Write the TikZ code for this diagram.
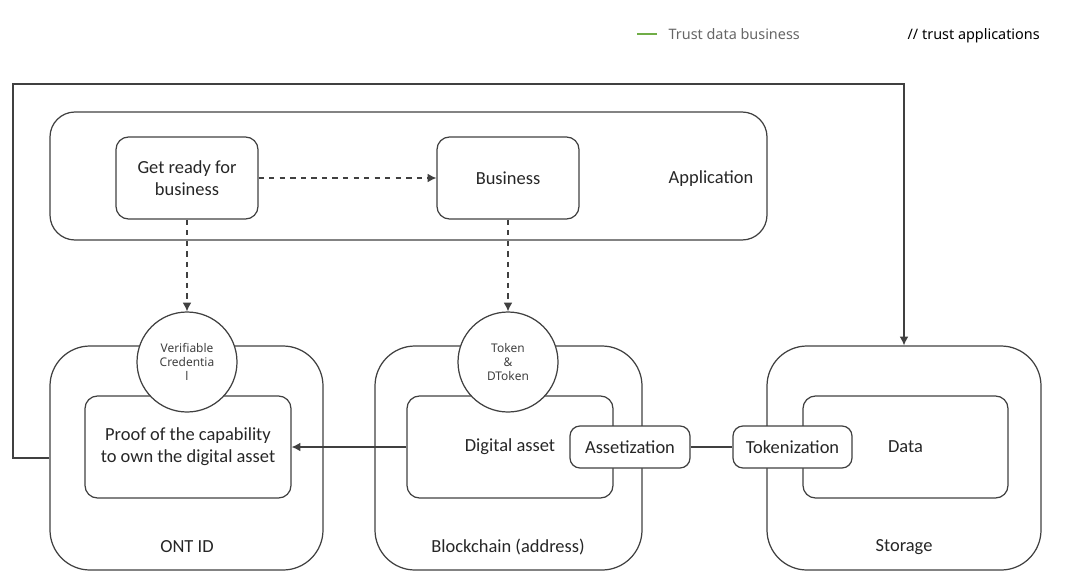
\documentclass[tikz,border=0pt]{standalone}
\usepackage{fontspec}
\setmainfont{Carlito}
\newfontfamily\thinfont{Noto Sans}
\usepackage{tikz}
\usetikzlibrary{positioning, arrows.meta}
\definecolor{linegray}{HTML}{404040}
\definecolor{textgray}{HTML}{262626}
\definecolor{leggreen}{HTML}{70AD47}
\tikzset{
	>={Latex[length=5pt,width=5pt]},
	every path/.append style={
		line width=0.7pt,
	},
	labe/.append style={
		align = center,
		text=textgray,
		font={\fontsize{10.5}{12.6}\selectfont}
	},
	outerbox/.append style={
		draw=linegray,
		rounded corners=0.8cm,
		minimum width=5.46cm,
		minimum height=4.48cm,
	},
	innerbox/.append style={
		draw=linegray,
		labe,
		rounded corners=0.25cm,
		minimum width=4.12cm,
		minimum height=2.04cm,
	},
	smallbox/.append style={
		draw=linegray,
		fill=white,
		labe,
		rounded corners=0.2cm,
		minimum width=2.4cm,
		minimum height=0.84cm,
	},
	tokencircle/.append style={
		draw=linegray,
		fill=white,
		circle,
		inner sep=0pt,
		minimum size=2cm,
		align=center,
		text=linegray,
		font={\thinfont\fontsize{6.8}{8.2}\selectfont}
	},
	legend/.append style={
		anchor=west,
		inner sep=0pt,
		font={\thinfont\fontsize{8.2}{10}\selectfont}
	},
}

\begin{document}
\begin{tikzpicture}
	\useasboundingbox (0,0) rectangle (21.6,11.62);

	% application layer
	\node(app)[draw=linegray, rounded corners=0.5cm, minimum width=14.34cm, minimum height=2.56cm] at (8.17,8.10) {};
	\node(grb)[innerbox, minimum width=2.84cm, minimum height=1.64cm] at (3.74,8.06) {Get ready for\\business};
	\node(bus)[innerbox, minimum width=2.84cm, minimum height=1.64cm] at (10.16,8.06) {Business};
	\node(appl)[labe] at (14.22,8.05) {Application};

	% bottom layer
	\node(ont)[outerbox] at (3.73,2.46) {};
	\node(chain)[outerbox, minimum width=5.34cm] at (10.17,2.46) {};
	\node(store)[outerbox, minimum width=5.48cm] at (18.08,2.46) {};

	\node(proof)[innerbox] at (3.76,2.68) {Proof of the capability\\to own the digital asset};
	\node(da)[innerbox] at (10.2,2.68) {Digital asset};
	\node(data)[innerbox, minimum width=4.1cm] at (18.11,2.68) {Data};

	\node(vc)[tokencircle] at (3.74,4.38) {Verifiable\\Credentia\\l};
	\node(tok)[tokencircle] at (10.16,4.38) {Token\\\&\\DToken};
	\node(asset)[smallbox] at (12.6,2.68) {Assetization};
	\node(tokz)[smallbox, minimum width=2.38cm] at (15.85,2.68) {Tokenization};

	\node(ontl)[labe] at (3.74,0.68) {ONT ID};
	\node(chainl)[labe] at (10.16,0.68) {Blockchain (address)};
	\node(storel)[labe] at (18.08,0.68) {Storage};

	% legend
	\node(lg)[legend, text=black!60] at (13.36,10.94) {Trust data business};
	\node(lt)[legend, text=black] at (18.14,10.91) {// trust applications};
	\draw[leggreen] ([xshift=-0.22cm]lg.west) -- ++(-0.4,0);

	% connectors
	\draw[->, dashed, linegray] (grb) -- (bus);
	\draw[->, dashed, linegray] (grb) -- (vc);
	\draw[->, dashed, linegray] (bus) -- (tok);
	\draw[->, linegray] (da) -- (proof);
	\draw[linegray] (asset) -- (tokz);
	\coordinate(loop) at (0.26,9.94);
	\draw[->, linegray] (ont.west) -| (loop) -| (store.north);
\end{tikzpicture}
\end{document}
